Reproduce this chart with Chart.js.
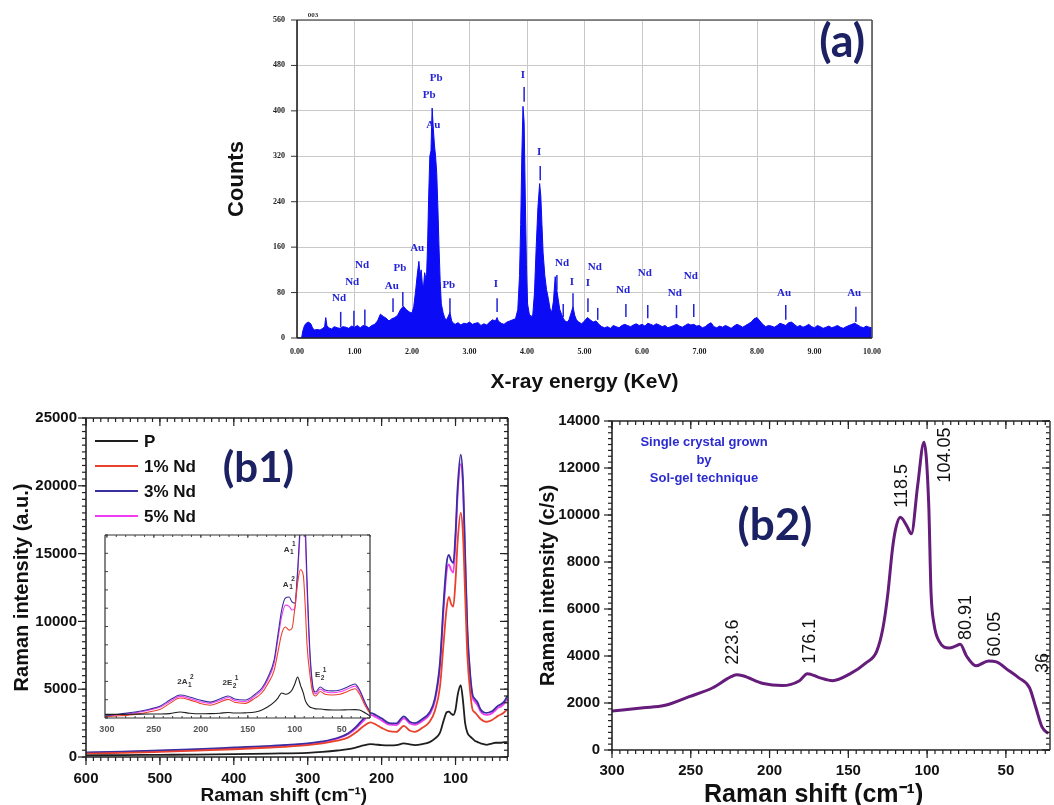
<!DOCTYPE html>
<html><head><meta charset="utf-8">
<script src="https://cdn.jsdelivr.net/npm/chart.js@4.4.1/dist/chart.umd.min.js"></script>
<style>
html,body{margin:0;padding:0;background:#fff;width:1054px;height:805px;overflow:hidden;position:relative}
canvas{position:absolute}
</style></head><body>
<canvas id="ca" style="left:220px;top:0px" width="680" height="400"></canvas>
<canvas id="cb1" style="left:0px;top:400px" width="530" height="420"></canvas>
<canvas id="cin" style="left:90px;top:525px" width="290" height="215"></canvas>
<canvas id="cb2" style="left:530px;top:400px" width="524" height="420"></canvas>
<script>
// ===================== DATA =====================
// (a) EDX spectrum
const edxEnergy = [0.00,0.08,0.10,0.13,0.16,0.20,0.24,0.27,0.30,0.35,0.40,0.45,0.48,0.50,0.52,0.55,0.60,0.65,0.70,0.75,0.80,0.85,0.90,0.95,1.00,1.05,1.10,1.15,1.20,1.25,1.30,1.35,1.40,1.45,1.50,1.55,1.60,1.65,1.70,1.75,1.80,1.85,1.90,1.95,2.00,2.03,2.06,2.09,2.12,2.14,2.16,2.18,2.20,2.22,2.25,2.27,2.29,2.31,2.33,2.35,2.37,2.39,2.41,2.43,2.45,2.47,2.49,2.51,2.54,2.57,2.60,2.63,2.66,2.69,2.72,2.75,2.80,2.85,2.90,2.95,3.00,3.05,3.10,3.15,3.20,3.25,3.30,3.35,3.40,3.45,3.48,3.50,3.55,3.60,3.65,3.70,3.75,3.80,3.84,3.87,3.89,3.91,3.93,3.95,3.97,3.99,4.01,4.04,4.07,4.10,4.13,4.16,4.19,4.22,4.24,4.26,4.28,4.31,4.34,4.37,4.40,4.43,4.46,4.49,4.51,4.54,4.57,4.60,4.63,4.66,4.70,4.73,4.77,4.80,4.83,4.86,4.90,4.95,5.00,5.05,5.10,5.15,5.20,5.25,
5.30,5.35,5.40,5.45,5.50,5.55,5.60,5.65,5.70,5.75,5.80,5.85,5.90,5.95,6.00,6.05,6.10,6.15,6.20,6.25,6.30,6.35,6.40,6.45,6.50,6.55,6.60,6.65,6.70,6.75,6.80,6.85,6.90,6.95,7.00,7.05,7.10,7.15,7.20,7.25,7.30,7.35,7.40,7.45,7.50,7.55,7.60,7.65,7.70,7.75,7.80,7.85,7.90,7.95,8.00,8.05,8.10,8.15,8.20,8.25,8.30,8.35,8.40,8.45,8.50,8.55,8.60,8.65,8.70,8.75,8.80,8.85,8.90,8.95,9.00,9.05,9.10,9.15,9.20,9.25,9.30,9.35,9.40,9.45,9.50,9.55,9.60,9.65,9.70,9.75,9.80,9.85,9.90,9.95,10.00];
const edxCounts = [0,0,12,22,26,28,25,18,14,15,14,17,20,36,22,18,16,20,18,17,20,19,17,21,19,22,18,22,21,18,22,24,30,42,38,35,30,34,36,40,50,56,50,46,44,55,80,110,135,110,120,95,90,115,100,160,250,320,330,405,370,340,320,290,230,160,100,60,45,35,32,38,45,30,26,24,27,23,26,25,28,24,26,27,22,25,23,28,32,30,36,30,26,24,28,30,32,34,50,110,200,320,408,380,250,130,60,42,38,40,80,160,230,272,250,200,150,110,85,70,52,45,65,108,90,70,50,42,35,30,28,32,45,55,40,32,28,25,30,36,32,28,30,24,
20,18,20,17,22,20,18,22,24,22,20,23,25,22,24,21,26,24,22,25,23,20,22,18,20,22,24,21,19,22,25,23,24,21,22,18,20,24,27,20,18,21,19,22,20,17,21,24,22,19,22,25,28,34,36,30,24,20,22,21,19,22,26,24,22,27,28,24,20,22,19,21,24,20,18,22,20,17,19,21,18,20,22,19,17,20,22,24,26,23,20,18,21,19,18];
const edxXTicks = [0,1,2,3,4,5,6,7,8,9,10];
const edxYTicks = [0,80,160,240,320,400,480,560];
// element marker lines: energy, low and high counts
const edxLineEnergy = [0.76,0.99,1.18,1.67,1.84,2.66,3.48,3.95,4.23,4.52,4.63,4.80,5.06,5.23,5.72,6.10,6.60,6.90,8.50,9.72];
const edxLineLow    = [19,20,22,46,56,44,46,416,278,85,37,53,46,32,37,35,35,37,32,28];
const edxLineHigh   = [46,48,50,70,81,70,70,442,303,111,60,79,70,53,60,58,58,60,58,55];
// element labels
const edxLabelText   = ['Nd','Nd','Nd','Au','Pb','Au','Pb','I','Pb','Pb','Au','I','I','Nd','I','Nd','I','Nd','Nd','Nd','Nd','Au','Au'];
const edxLabelEnergy = [0.73,0.96,1.13,1.65,1.79,2.09,2.64,3.46,2.42,2.30,2.37,3.93,4.21,4.61,4.78,5.18,5.06,5.67,6.05,6.57,6.85,8.47,9.69];
const edxLabelCounts = [70,99,129,92,123,158,93,95,458,428,375,463,328,132,99,125,97,85,114,79,109,79,79];

// (b1) Raman spectra
const b1Shift = [600,550,500,450,400,350,300,280,260,245,235,225,215,208,200,190,180,170,162,155,145,135,128,121,116,112,109,106,103,100,97,93,90,87,84,80,77,74,70,66,62,58,54,50,46,42,38,34,30];
const b1P   = [120,140,160,180,210,250,310,380,480,580,700,850,950,920,880,860,880,1000,930,880,950,1100,1350,1800,2700,3300,3350,3200,3100,3500,4600,5300,4200,2500,1800,1500,1350,1200,1100,1000,950,900,950,1000,1050,1050,1050,1100,1100];
const b1Nd1 = [250,300,380,470,570,700,880,1000,1200,1450,1800,2250,2550,2400,2150,1900,1850,2300,1950,1850,2150,2600,3400,5200,8500,11000,11800,11300,11100,13000,16000,18000,16500,12000,7500,4700,3500,3300,3050,2800,2650,2600,2650,2750,2900,3050,3150,3300,3500];
const b1Nd3 = [330,400,480,580,700,820,1000,1150,1400,1750,2200,2800,3250,3100,2850,2500,2480,3000,2600,2500,2800,3300,4300,7000,11500,14300,14900,14500,14300,16500,20000,22300,20500,15000,9500,6000,4600,4300,4000,3500,3300,3250,3300,3400,3600,3800,3900,4100,4500];
const b1Nd5 = [300,370,450,550,660,780,960,1100,1350,1700,2100,2650,3100,2950,2700,2380,2350,2850,2480,2380,2650,3150,4100,6700,11000,13700,14200,13800,13600,16000,19500,21600,20000,14500,9200,5800,4400,4100,3800,3350,3150,3100,3150,3250,3450,3650,3750,3950,4300];
const b1Names = ['P','1% Nd','3% Nd','5% Nd'];
const b1XTicks = [600,500,400,300,200,100];
const b1YTicks = [0,5000,10000,15000,20000,25000];

// (b1) inset
const inShift = [302,286,270,254,243,233,222,212,201,190,180,171,164,153,142,135,129,122,118,114,110,106,103,100,97,94,91,89,87,84,81,78,73,68,60,52,44,36,31,25,20];
const inP   = [2.0,2.0,2.1,2.2,2.2,2.4,3.3,2.6,2.3,2.4,2.6,3.0,2.7,2.8,3.3,4.4,6.0,8.7,10.9,13.7,13.0,13.7,15.3,18.6,22.4,18.0,13.7,9.8,7.7,6.0,5.5,5.0,4.9,4.6,4.4,4.4,4.5,4.6,4.4,2.7,1.1];
const inNd1 = [0.6,1.2,2.0,3.4,4.8,8.0,10.9,9.9,8.0,7.0,8.6,10.2,8.6,8.0,11.0,13.8,18.5,26.0,36.0,46.0,49.7,48.0,49.0,60.0,74.0,81.0,78.0,62.0,40.0,24.0,14.0,12.0,14.5,13.0,12.6,13.0,14.5,16.0,13.0,6.5,2.5];
const inNd3 = [1.1,2.2,3.3,4.9,6.6,9.8,12.6,11.5,9.8,8.7,10.4,12.0,10.4,9.8,13.1,16.4,21.9,31.7,45.4,59.0,65.6,66.1,63.4,62.8,80.9,108,125,108,75.4,37.2,18.0,14.2,16.9,15.3,14.8,15.3,16.9,18.6,15.3,8.2,3.3];
const inNd5 = [0.9,1.8,2.9,4.4,6.0,9.0,11.8,10.7,9.0,8.0,9.6,11.2,9.6,9.0,12.2,15.4,20.6,30.0,43.0,55.5,61.7,61.0,59.0,60.0,78.0,104,118,102,70.0,34.0,16.5,13.2,15.8,14.3,13.8,14.3,15.8,17.4,14.3,7.5,3.0];
const inXTicks = [300,250,200,150,100,50];
const inLabelBase  = ['2A','2E','E','A','A'];
const inLabelSub   = ['1','2','2','1','1'];
const inLabelSup   = ['2','1','1','1','2'];
const inLabelShift = [217,169,73,106,107];
const inLabelY     = [19.7,19,23.5,92,73];

// (b2) Raman spectrum, single crystal
const b2Shift = [300,280,267,251,236,225,221,217,204,192,181,176,168,160,149,139,132,128,125,122,120,117,113,110,106,102,99,97.5,95.6,92.4,86,82,79,75,69,61,56,48,42,35,31,27,23];
const b2Int   = [1660,1800,1890,2270,2650,3100,3200,3160,2830,2740,2950,3250,3070,2950,3240,3700,4200,5200,6600,8550,9400,9900,9550,9200,11250,13100,10500,6700,5350,4630,4340,4420,4500,4000,3580,3790,3750,3370,3080,2650,1810,970,700];
const b2PeakText  = ['223.6','176.1','118.5','104.05','80.91','60.05','36'];
const b2PeakShift = [223.2,174.4,116,88.7,75.4,57,26.5];
const b2PeakY     = [4590,4630,11240,12550,5640,4930,3700];
const b2XTicks = [300,250,200,150,100,50];
const b2YTicks = [0,2000,4000,6000,8000,10000,12000,14000];
const b2Note = ['Single crystal grown','by','Sol-gel technique'];
const b2NoteY = [13095,12337,11537];

// ===================== HELPERS =====================
Chart.defaults.font.family = "'Liberation Sans', Arial, sans-serif";
Chart.defaults.color = '#111';
const toXY = (xs, ys) => xs.map((v, i) => ({x: v, y: ys[i]}));
const base = {responsive:false, animation:false, devicePixelRatio:1,
  plugins:{legend:{display:false}, tooltip:{enabled:false}}};
const noGrid = {display: false, drawTicks: false, tickLength: 0};

function frameTicks(cfg) {
  return {
    id: 'frame_' + cfg.name,
    afterDatasetsDraw(chart) {
      const {ctx, chartArea: a, scales: {x, y}} = chart;
      ctx.save();
      const seg = (x1, y1, x2, y2) => {ctx.beginPath(); ctx.moveTo(x1, y1); ctx.lineTo(x2, y2); ctx.stroke();};
      const vals = (sc, step) => {
        const out = []; if (!step) return out;
        const lo = Math.ceil((sc.min - 1e-9) / step), hi = Math.floor((sc.max + 1e-9) / step);
        for (let k = lo; k <= hi; k++) out.push(k * step);
        return out;
      };
      const side = (s, list, len) => {
        const d = cfg.sides[s]; if (!d) return;
        list.forEach(v => {
          if (s === 'bottom' || s === 'top') {
            const px = x.getPixelForValue(v), b = s === 'bottom' ? a.bottom : a.top;
            seg(px, b, px, b + (s === 'bottom' ? 1 : -1) * d * len);
          } else {
            const py = y.getPixelForValue(v), b = s === 'left' ? a.left : a.right;
            seg(b, py, b + (s === 'left' ? -1 : 1) * d * len, py);
          }
        });
      };
      ctx.strokeStyle = cfg.tickColor; ctx.lineWidth = cfg.tickWidth;
      ['bottom', 'top'].forEach(s => {side(s, vals(x, cfg.xMinor), cfg.minorLen); side(s, vals(x, cfg.xMajor), cfg.majorLen);});
      ['left', 'right'].forEach(s => {side(s, vals(y, cfg.yMinor), cfg.minorLen); side(s, vals(y, cfg.yMajor), cfg.majorLen);});
      const fc = cfg.frameColors;
      ctx.lineWidth = cfg.frameWidth;
      ctx.strokeStyle = fc.top; seg(a.left, a.top, a.right, a.top);
      ctx.strokeStyle = fc.right; seg(a.right, a.top, a.right, a.bottom);
      ctx.strokeStyle = fc.left; seg(a.left, a.top, a.left, a.bottom);
      ctx.strokeStyle = fc.bottom; seg(a.left, a.bottom, a.right, a.bottom);
      ctx.restore();
    }
  };
}
function texts(name, items) {
  return {
    id: 'txt_' + name,
    afterDatasetsDraw(chart) {
      const {ctx, scales: {x, y}} = chart;
      items.forEach(it => {
        ctx.save();
        ctx.font = it.font; ctx.fillStyle = it.color;
        ctx.textAlign = 'center'; ctx.textBaseline = 'middle';
        ctx.translate(x.getPixelForValue(it.x), y.getPixelForValue(it.y));
        if (it.rot) ctx.rotate(it.rot);
        ctx.fillText(it.text, 0, 0);
        ctx.restore();
      });
    }
  };
}
const labelNavy = '#1b2163';
const bigFont = "bold 42px Lato, 'Open Sans', sans-serif";

// ===================== (a) EDX =====================
const blue = '#0b0bf5';
const edxLabelItems = edxLabelText.map((t, i) => ({text: t, x: edxLabelEnergy[i], y: edxLabelCounts[i],
  font: "bold 11px 'Liberation Serif', serif", color: '#2323d8'}));
edxLabelItems.push({text: '003', x: 0.28, y: 569, font: "bold 7px 'Liberation Serif', serif", color: '#333'});
edxLabelItems.push({text: '(a)', x: 9.48, y: 521, font: "bold 45px Lato, 'Open Sans', sans-serif", color: labelNavy});
new Chart(document.getElementById('ca'), {
  type: 'line',
  data: {datasets: [{data: toXY(edxEnergy, edxCounts), borderColor: blue, backgroundColor: blue,
    borderWidth: 1, pointRadius: 0, fill: 'origin', tension: 0}]},
  options: Object.assign({}, base, {
    layout: {padding: {left: 0, top: 20, right: 28, bottom: 0}},
    scales: {
      x: {type: 'linear', min: 0, max: 10,
        afterFit: s => {s.height = 62;},
        afterBuildTicks: s => {s.ticks = edxXTicks.map(v => ({value: v}));},
        ticks: {callback: v => Number(v).toFixed(2), font: {family: "'Liberation Serif', serif", size: 8, weight: 'bold'}, color: '#222', padding: 9, maxRotation: 0, autoSkip: false},
        grid: {color: '#c9c9c9', lineWidth: 1, drawTicks: false, tickLength: 0}, border: {display: false},
        title: {display: true, text: 'X-ray energy (KeV)', font: {size: 21, weight: 'bold', lineHeight: 1.2}, color: '#111', padding: {top: 0, bottom: 5}}},
      y: {type: 'linear', min: 0, max: 560,
        afterFit: s => {s.width = 77;},
        afterBuildTicks: s => {s.ticks = edxYTicks.map(v => ({value: v}));},
        ticks: {callback: v => String(v), font: {family: "'Liberation Serif', serif", size: 8, weight: 'bold'}, color: '#222', padding: 12, autoSkip: false},
        grid: {color: '#c9c9c9', lineWidth: 1, drawTicks: false, tickLength: 0}, border: {display: false},
        title: {display: true, text: 'Counts', font: {size: 22, weight: 'bold', lineHeight: 1.2}, color: '#111', padding: {top: 4, bottom: 0}}}
    }
  }),
  plugins: [
    {id: 'edxLines', afterDatasetsDraw(chart) {
      const {ctx, scales: {x, y}} = chart;
      ctx.save(); ctx.strokeStyle = '#2323d8'; ctx.lineWidth = 1.5;
      edxLineEnergy.forEach((e, i) => {
        const px = x.getPixelForValue(e);
        ctx.beginPath(); ctx.moveTo(px, y.getPixelForValue(edxLineLow[i])); ctx.lineTo(px, y.getPixelForValue(edxLineHigh[i])); ctx.stroke();
      });
      ctx.restore();
    }},
    texts('a', edxLabelItems),
    frameTicks({name: 'a', sides: {left: 1}, xMajor: 0, yMajor: 80, xMinor: 0, yMinor: 0, majorLen: 6, minorLen: 0,
      tickColor: '#333', tickWidth: 1, frameWidth: 1.6,
      frameColors: {left: '#222', bottom: '#222', top: '#666', right: '#555'}})
  ]
});

// ===================== (b1) =====================
const b1Colors = ['#1e1e1e', '#e8412c', '#3a2fa0', '#f23cf2'];
const b1Series = [b1P, b1Nd1, b1Nd3, b1Nd5];
const axisTitleFont = (sz) => ({size: sz, weight: 'bold', lineHeight: 1.2});
new Chart(document.getElementById('cb1'), {
  type: 'line',
  data: {datasets: b1Series.map((s, i) => ({label: b1Names[i], data: toXY(b1Shift, s), borderColor: b1Colors[i],
    borderWidth: 1.8, pointRadius: 0, fill: false, tension: 0.35, cubicInterpolationMode: 'monotone'}))},
  options: Object.assign({}, base, {
    layout: {padding: {left: 0, top: 18, right: 22, bottom: 0}},
    scales: {
      x: {type: 'linear', min: 29, max: 600, reverse: true,
        afterFit: s => {s.height = 63;},
        afterBuildTicks: s => {s.ticks = b1XTicks.map(v => ({value: v}));},
        ticks: {callback: v => String(v), font: {size: 15, weight: 'bold'}, color: '#111', padding: 13, maxRotation: 0, autoSkip: false},
        grid: noGrid, border: {display: false},
        title: {display: true, text: 'Raman shift (cm\u207B\u00B9)\u00A0\u00A0\u00A0\u00A0\u00A0', font: axisTitleFont(19), color: '#111', padding: {top: 0, bottom: 13}}},
      y: {type: 'linear', min: 0, max: 25000,
        afterFit: s => {s.width = 86;},
        afterBuildTicks: s => {s.ticks = b1YTicks.map(v => ({value: v}));},
        ticks: {callback: v => String(v), font: {size: 15, weight: 'bold'}, color: '#111', padding: 9, autoSkip: false},
        grid: noGrid, border: {display: false},
        title: {display: true, text: 'Raman intensity (a.u.)', font: axisTitleFont(20), color: '#111', padding: {top: 10, bottom: 0}}}
    }
  }),
  plugins: [
    frameTicks({name: 'b1', sides: {left: 1, bottom: 1, top: -1, right: -1}, xMajor: 100, xMinor: 10, yMajor: 5000, yMinor: 500,
      majorLen: 8, minorLen: 4, tickColor: '#222', tickWidth: 1.2, frameWidth: 1.6,
      frameColors: {left: '#222', bottom: '#222', top: '#222', right: '#222'}}),
    {id: 'b1legend', afterDatasetsDraw(chart) {
      const {ctx, chartArea: a} = chart;
      ctx.save(); ctx.font = "bold 17px 'Liberation Sans', Arial"; ctx.textBaseline = 'middle'; ctx.textAlign = 'left';
      chart.data.datasets.forEach((d, i) => {
        const yy = a.top + 23 + i * 25;
        ctx.strokeStyle = d.borderColor; ctx.lineWidth = 2;
        ctx.beginPath(); ctx.moveTo(a.left + 9, yy); ctx.lineTo(a.left + 52, yy); ctx.stroke();
        ctx.fillStyle = '#111'; ctx.fillText(d.label, a.left + 58, yy + 1);
      });
      ctx.restore();
    }},
    texts('b1', [{text: '(b1)', x: 366.7, y: 21260, font: bigFont, color: labelNavy}])
  ]
});

// ===================== (b1) inset =====================
const inSeries = [inP, inNd1, inNd3, inNd5];
new Chart(document.getElementById('cin'), {
  type: 'line',
  data: {datasets: inSeries.map((s, i) => ({data: toXY(inShift, s), borderColor: b1Colors[i],
    borderWidth: 1.1, pointRadius: 0, fill: false, tension: 0.35, cubicInterpolationMode: 'monotone'}))},
  options: Object.assign({}, base, {
    layout: {padding: {left: 0, top: 10, right: 10, bottom: 0}},
    scales: {
      x: {type: 'linear', min: 20, max: 302, reverse: true,
        afterFit: s => {s.height = 22;},
        afterBuildTicks: s => {s.ticks = inXTicks.map(v => ({value: v}));},
        ticks: {callback: v => String(v), font: {size: 9, weight: 'bold'}, color: '#555', padding: 6, maxRotation: 0, autoSkip: false},
        grid: noGrid, border: {display: false}},
      y: {type: 'linear', min: 0, max: 100,
        afterFit: s => {s.width = 15;},
        ticks: {display: false}, grid: noGrid, border: {display: false}}
    }
  }),
  plugins: [
    {id: 'inBg', beforeDatasetsDraw(chart) {
      const {ctx, chartArea: a} = chart;
      ctx.save(); ctx.fillStyle = '#fff'; ctx.fillRect(a.left, a.top, a.right - a.left, a.bottom - a.top); ctx.restore();
    }},
    frameTicks({name: 'in', sides: {left: -1, bottom: -1, top: -1, right: -1}, xMajor: 50, xMinor: 10, yMajor: 10, yMinor: 0,
      majorLen: 3, minorLen: 2, tickColor: '#444', tickWidth: 1, frameWidth: 1.2,
      frameColors: {left: '#333', bottom: '#333', top: '#333', right: '#333'}}),
    {id: 'inLabels', afterDatasetsDraw(chart) {
      const {ctx, scales: {x, y}} = chart;
      ctx.save(); ctx.fillStyle = '#333'; ctx.textBaseline = 'middle'; ctx.textAlign = 'left';
      inLabelBase.forEach((b, i) => {
        ctx.font = "bold 8px 'Liberation Sans', Arial";
        const w = ctx.measureText(b).width;
        const px = x.getPixelForValue(inLabelShift[i]) - (w + 5) / 2, py = y.getPixelForValue(inLabelY[i]);
        ctx.fillText(b, px, py);
        ctx.font = "bold 6.5px 'Liberation Sans', Arial";
        ctx.fillText(inLabelSub[i], px + w + 0.5, py + 3);
        ctx.fillText(inLabelSup[i], px + w + 2.5, py - 5);
      });
      ctx.restore();
    }}
  ]
});

// ===================== (b2) =====================
const b2Items = b2PeakText.map((t, i) => ({text: t, x: b2PeakShift[i], y: b2PeakY[i], rot: -Math.PI / 2,
  font: "18px 'Liberation Sans', Arial", color: '#111'}));
b2Note.forEach((t, i) => b2Items.push({text: t, x: 241.6, y: b2NoteY[i], font: "bold 13px 'Liberation Sans', Arial", color: '#2b2bd0'}));
b2Items.push({text: '(b2)', x: 196.6, y: 9560, font: "bold 44px Lato, 'Open Sans', sans-serif", color: labelNavy});
new Chart(document.getElementById('cb2'), {
  type: 'line',
  data: {datasets: [{data: toXY(b2Shift, b2Int), borderColor: '#651c7a', borderWidth: 3, pointRadius: 0,
    fill: false, tension: 0.35, cubicInterpolationMode: 'monotone'}]},
  options: Object.assign({}, base, {
    layout: {padding: {left: 0, top: 17, right: 4, bottom: 0}},
    scales: {
      x: {type: 'linear', min: 22, max: 300, reverse: true,
        afterFit: s => {s.height = 70;},
        afterBuildTicks: s => {s.ticks = b2XTicks.map(v => ({value: v}));},
        ticks: {callback: v => String(v), font: {size: 15, weight: 'bold'}, color: '#111', padding: 12, maxRotation: 0, autoSkip: false},
        grid: noGrid, border: {display: false},
        title: {display: true, text: 'Raman shift (cm\u207B\u00B9)\u00A0\u00A0\u00A0\u00A0\u00A0', font: {size: 25, weight: 'bold', lineHeight: 1.2}, color: '#111', padding: {top: 0, bottom: 10}}},
      y: {type: 'linear', min: 0, max: 14000,
        afterFit: s => {s.width = 82;},
        afterBuildTicks: s => {s.ticks = b2YTicks.map(v => ({value: v}));},
        ticks: {callback: v => String(v), font: {size: 15, weight: 'bold'}, color: '#111', padding: 12, autoSkip: false},
        grid: noGrid, border: {display: false},
        title: {display: true, text: 'Raman intensity (c/s)', font: axisTitleFont(20), color: '#111', padding: {top: 6, bottom: 0}}}
    }
  }),
  plugins: [
    frameTicks({name: 'b2', sides: {left: 1, bottom: 1, top: -1, right: -1}, xMajor: 50, xMinor: 5, yMajor: 2000, yMinor: 250,
      majorLen: 8, minorLen: 4, tickColor: '#222', tickWidth: 1.2, frameWidth: 1.6,
      frameColors: {left: '#222', bottom: '#222', top: '#222', right: '#444'}}),
    texts('b2', b2Items)
  ]
});
</script>
</body></html>
